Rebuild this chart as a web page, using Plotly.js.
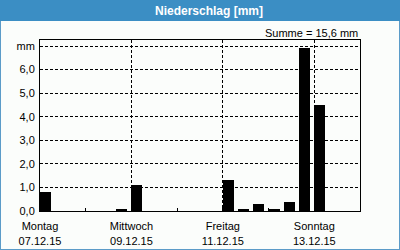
<!DOCTYPE html>
<html>
<head>
<meta charset="utf-8">
<script src="https://cdn.plot.ly/plotly-3.0.1.min.js"></script>
<style>
html,body{margin:0;padding:0;background:#fff;}
#wrap{position:relative;width:400px;height:250px;overflow:hidden;background:#fbfdfb;}
#frame{position:absolute;left:0;top:0;width:398px;height:248px;border:1px solid #5b9bc8;}
#head{position:absolute;left:0;top:0;width:400px;height:21px;background:#3b8ec4;}
#chart{position:absolute;left:0;top:0;width:400px;height:250px;}
</style>
</head>
<body>
<div id="wrap">
<div id="frame"></div>
<div id="head"></div>
<div id="chart"></div>
</div>
<script>
// Data: 8-hour precipitation totals (start of each period), mm
const periodStarts = [
  "2015-12-07 00:00", "2015-12-08 16:00", "2015-12-09 00:00",
  "2015-12-11 00:00", "2015-12-11 08:00", "2015-12-11 16:00",
  "2015-12-12 00:00", "2015-12-12 08:00", "2015-12-12 16:00",
  "2015-12-13 00:00"
];
const precipMM = [0.8, 0.1, 1.1, 1.3, 0.1, 0.3, 0.1, 0.4, 6.9, 4.5];

const xTickVals = ["2015-12-07", "2015-12-09", "2015-12-11", "2015-12-13"];
const xTickText = ["Montag<br>07.12.15", "Mittwoch<br>09.12.15", "Freitag<br>11.12.15", "Sonntag<br>13.12.15"];
const yTickVals = [0, 1, 2, 3, 4, 5, 6, 7];
const yTickText = ["0,0", "1,0", "2,0", "3,0", "4,0", "5,0", "6,0", "mm"];
const titleText = "Niederschlag [mm]";
const sumText = "Summe = 15,6 mm";

const H = 3600 * 1000;
const font = {family: "Liberation Sans, Arial, sans-serif", size: 11, color: "#000"};

const trace = {
  type: "bar",
  x: periodStarts,
  y: precipMM,
  offset: 0,
  width: periodStarts.map(() => 5.8 * H),
  marker: {color: "#000", line: {width: 0}},
  hoverinfo: "skip"
};

const layout = {
  width: 400, height: 250,
  margin: {l: 40, r: 40, t: 40, b: 39, pad: 0},
  paper_bgcolor: "rgba(0,0,0,0)",
  plot_bgcolor: "rgba(0,0,0,0)",
  font: font,
  showlegend: false,
  bargap: 0,
  title: {
    text: titleText,
    font: {family: "Liberation Sans, Arial, sans-serif", size: 12, color: "#fff", weight: "bold"},
    xref: "container", yref: "container",
    x: 0.5225, y: 1 - 10.5 / 250, xanchor: "center", yanchor: "middle"
  },
  xaxis: {
    type: "date",
    range: ["2015-12-07 00:00", "2015-12-14 00:00"],
    tickmode: "array",
    tickvals: xTickVals,
    ticktext: xTickText,
    ticks: "",
    ticklabelstandoff: 5,
    showgrid: true,
    gridcolor: "#000",
    gridwidth: 1,
    griddash: "3px,2px",
    showline: true, linecolor: "#000", linewidth: 1, mirror: true,
    zeroline: false,
    tickfont: font,
    minor: {dtick: 86400000, tick0: "2015-12-07", ticks: "inside", ticklen: 3, tickcolor: "#000", showgrid: false},
    fixedrange: true
  },
  yaxis: {
    range: [0, 171 / (165 / 7)],
    tickmode: "array",
    tickvals: yTickVals,
    ticktext: yTickText,
    ticks: "",
    ticklabelstandoff: 2,
    showgrid: true,
    gridcolor: "#000",
    gridwidth: 1,
    griddash: "3px,2px",
    showline: true, linecolor: "#000", linewidth: 1, mirror: true,
    zeroline: false,
    tickfont: font,
    fixedrange: true
  },
  annotations: [{
    text: sumText,
    xref: "paper", yref: "paper",
    x: 1, y: (211 - 32.5) / 171,
    xanchor: "right", yanchor: "middle",
    showarrow: false,
    font: font
  }]
};

Plotly.newPlot("chart", [trace], layout, {staticPlot: true, displayModeBar: false});
</script>
</body>
</html>
